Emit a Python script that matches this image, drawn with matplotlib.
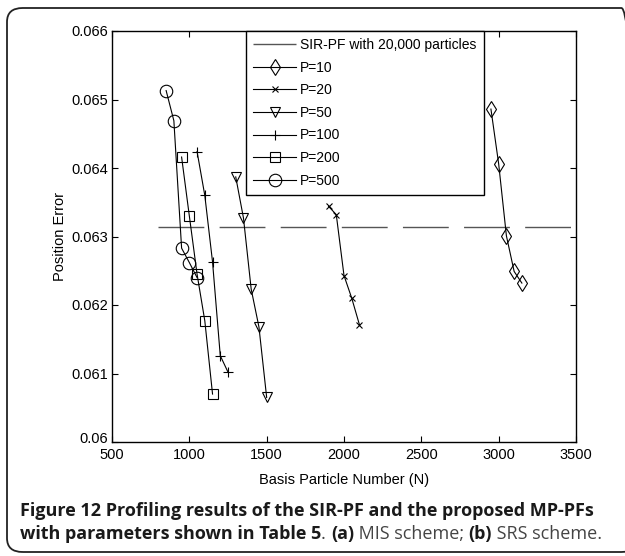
import matplotlib
matplotlib.use('Agg')
import matplotlib.pyplot as plt
import matplotlib.transforms as mtransforms
from matplotlib.patches import FancyBboxPatch

#*************** DATA ***************#
sir_n = [800, 3500]
sir_err = 0.06314

n_p10 = [2950, 3000, 3050, 3100, 3150]
err_p10 = [0.06486, 0.06406, 0.06301, 0.06249, 0.06232]

n_p20 = [1900, 1950, 2000, 2050, 2100]
err_p20 = [0.06344, 0.06332, 0.06243, 0.06210, 0.06171]

n_p50 = [1300, 1350, 1400, 1450, 1500]
err_p50 = [0.06387, 0.06327, 0.06223, 0.06168, 0.06065]

n_p100 = [1050, 1100, 1150, 1200, 1250]
err_p100 = [0.06424, 0.06360, 0.06263, 0.06126, 0.06102]

n_p200 = [950, 1000, 1050, 1100, 1150]
err_p200 = [0.06416, 0.06330, 0.06245, 0.06177, 0.06070]

n_p500 = [850, 900, 950, 1000, 1050]
err_p500 = [0.06513, 0.06469, 0.06283, 0.06262, 0.06240]

xticks = [500, 1000, 1500, 2000, 2500, 3000, 3500]
yticks = [0.06, 0.061, 0.062, 0.063, 0.064, 0.065, 0.066]
ytick_labels = ['0.06', '0.061', '0.062', '0.063', '0.064', '0.065', '0.066']

plt.rcParams['font.family'] = ['Liberation Sans', 'DejaVu Sans']

W, H = 625, 556
fig = plt.figure(figsize=(W / 100., H / 100.), dpi=100)

# outer rounded frame (right side runs off the picture)
frame = FancyBboxPatch((7. / W, 1 - 552. / H), 630. / W, 544. / H,
                       boxstyle="round,pad=0,rounding_size=0.025",
                       transform=fig.transFigure, fill=False,
                       edgecolor='#222222', linewidth=1.3, clip_on=False)
fig.patches.append(frame)

ax = fig.add_axes([112. / W, 1 - 442. / H, 464. / W, 411. / H])

ax.plot(sir_n, [sir_err, sir_err], color='#555555', lw=1.0,
        dashes=(33, 11), label='SIR-PF with 20,000 particles')

lw = 0.8
mk = dict(color='black', lw=lw, mfc='none', mec='black', mew=0.8)
ax.plot(n_p10, err_p10, marker='d', ms=8, label='P=10', **mk)
ax.plot(n_p20, err_p20, marker='x', ms=4, label='P=20', **mk)
ax.plot(n_p50, err_p50, marker='v', ms=7, label='P=50', **mk)
ax.plot(n_p100, err_p100, marker='+', ms=7, label='P=100', **mk)
ax.plot(n_p200, err_p200, marker='s', ms=6.5, label='P=200', **mk)
ax.plot(n_p500, err_p500, marker='o', ms=9, label='P=500', **mk)

ax.set_xlim(500, 3500)
ax.set_ylim(0.06, 0.066)
ax.set_xticks(xticks)
ax.set_yticks(yticks)
ax.set_yticklabels(ytick_labels)
ax.tick_params(direction='in', length=4, width=0.8, top=True, right=True,
               labelsize=10.5)
ax.tick_params(axis='x', pad=4)
ax.tick_params(axis='y', pad=3)
for s in ax.spines.values():
    s.set_linewidth(1.0)

# nudge the bottom y label up a little, like the original
fig.canvas.draw()
lab0 = ax.get_yticklabels()[0]
lab0.set_transform(lab0.get_transform() +
                   mtransforms.ScaledTranslation(0, 3 / 72., fig.dpi_scale_trans))

ax.set_xlabel('Basis Particle Number (N)', fontsize=10.5, labelpad=8)
ax.set_ylabel('Position Error', fontsize=10.5, labelpad=3)

leg = ax.legend(loc='upper left', bbox_to_anchor=(0.289, 1.0),
                borderaxespad=0, fontsize=10, handlelength=3.1,
                handletextpad=0.3, labelspacing=0.62, borderpad=0.5,
                fancybox=False, framealpha=1, edgecolor='black')
leg.get_frame().set_linewidth(1.0)

# caption with mixed weights
def draw_pieces(x, y, pieces, size):
    r = fig.canvas.get_renderer()
    for s, w, c in pieces:
        t = fig.text(x, y, s, fontsize=size, fontweight=w, color=c,
                     family=['Open Sans', 'DejaVu Sans'], va='center')
        bb = t.get_window_extent(r)
        x += bb.width / float(W)

cap_size = 13
draw_pieces(20. / W, 1 - 511. / H,
            [('Figure 12 Profiling results of the SIR-PF and the proposed MP-PFs',
              'bold', '#1a1a1a')], cap_size)
draw_pieces(20. / W, 1 - 534. / H,
            [('with parameters shown in Table 5', 'bold', '#1a1a1a'),
             ('. ', 'normal', '#444444'),
             ('(a)', 'bold', '#1a1a1a'),
             (' MIS scheme; ', 'normal', '#444444'),
             ('(b)', 'bold', '#1a1a1a'),
             (' SRS scheme.', 'normal', '#444444')], cap_size)

fig.savefig('out.png', dpi=100)
